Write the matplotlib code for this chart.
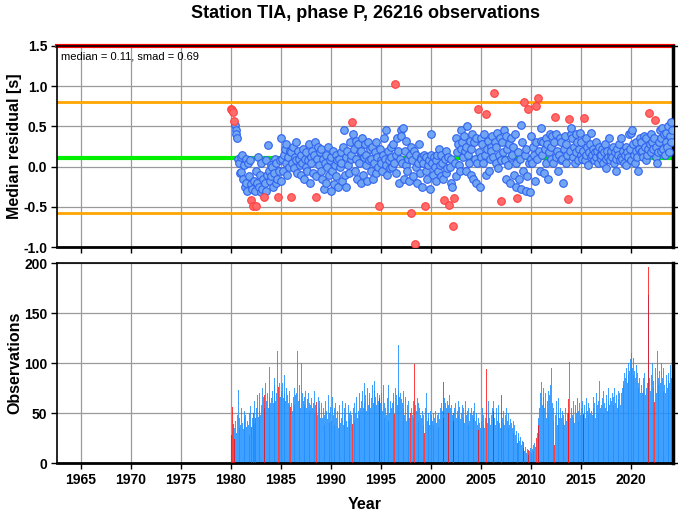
import numpy as np
import matplotlib
matplotlib.use("Agg")
import matplotlib.pyplot as plt

plt.rcParams['font.family'] = ['Liberation Sans', 'DejaVu Sans']

# monthly median residuals [s], Jan 1980 onward
res_1980s = [0.72, 0.70, 0.68, 0.57, 0.52, 0.46, 0.40, 0.36, 0.10, 0.05, -0.08, 0.12,
             -0.07, 0.15, -0.15, 0.02, -0.25, 0.10, -0.20, -0.30, 0.05, -0.12, 0.08, -0.22,
             -0.42, -0.28, -0.49, -0.18, -0.30, -0.49, -0.05, -0.20, 0.12, -0.25, -0.10, -0.32,
             0.05, -0.28, -0.15, -0.38, -0.20, 0.08, -0.30, -0.10, 0.27, -0.05, -0.18, 0.02,
             -0.12, 0.00, -0.25, -0.08, 0.10, -0.20, 0.05, -0.15, -0.38, -0.05, 0.08, -0.18,
             0.36, 0.10, -0.05, 0.15, 0.22, 0.05, 0.28, -0.10, 0.12, 0.00, 0.20, -0.38,
             0.18, 0.05, 0.25, -0.02, 0.12, 0.30, 0.08, -0.08, 0.20, 0.10, 0.02, 0.15,
             -0.10, 0.05, 0.22, -0.15, 0.10, 0.00, 0.18, -0.05, 0.08, 0.28, -0.20, 0.12,
             0.05, 0.20, -0.08, 0.15, 0.30, -0.12, -0.38, 0.10, 0.25, 0.02, 0.18, -0.05,
             0.22, -0.15, 0.10, -0.28, 0.05, 0.15, -0.20, 0.00, 0.25, -0.10, 0.08, -0.30]
res_1990s = [0.12, -0.05, 0.20, -0.22, 0.02, 0.15, -0.12, 0.08, -0.25, 0.10, 0.00, 0.18,
             0.05, -0.18, 0.25, 0.45, -0.10, 0.12, -0.25, 0.20, 0.02, -0.08, 0.30, 0.10,
             0.15, 0.56, 0.40, 0.22, -0.05, 0.32, 0.10, -0.15, 0.28, 0.05, 0.18, -0.20,
             0.20, 0.35, -0.10, 0.12, 0.28, 0.02, 0.15, -0.18, 0.30, 0.08, 0.22, -0.05,
             0.10, 0.25, -0.15, 0.05, 0.18, 0.30, -0.08, 0.12, 0.00, -0.49, 0.22, 0.08,
             0.05, -0.05, 0.15, 0.35, 0.10, 0.45, 0.02, -0.10, 0.20, 0.08, -0.02, 0.25,
             0.12, 0.00, 0.28, 0.05, 1.03, 0.15, -0.08, 0.35, 0.20, -0.20, 0.10, 0.45,
             0.38, 0.05, 0.48, -0.15, 0.20, 0.02, 0.32, -0.05, 0.10, -0.18, 0.15, -0.58,
             0.25, 0.08, -0.12, 0.20, -0.96, 0.00, 0.15, -0.20, 0.05, 0.28, -0.08, 0.12,
             0.10, -0.25, 0.05, 0.15, -0.49, -0.05, 0.12, -0.15, 0.02, 0.08, -0.28, 0.15]
res_2000s = [0.40, 0.05, -0.10, 0.12, 0.00, -0.18, 0.08, 0.15, -0.05, 0.22, 0.02, -0.12,
             0.15, 0.05, -0.15, -0.41, 0.10, -0.08, 0.20, -0.02, 0.12, -0.48, 0.00, -0.20,
             0.10, -0.25, -0.74, -0.39, 0.05, 0.35, -0.12, 0.18, 0.28, 0.02, -0.05, 0.22,
             0.45, 0.30, 0.12, 0.38, 0.20, -0.05, 0.25, 0.50, 0.15, 0.05, 0.32, -0.10,
             0.22, 0.40, -0.15, 0.30, 0.10, -0.20, 0.35, 0.05, 0.72, 0.18, -0.25, 0.12,
             0.35, 0.28, 0.05, 0.40, 0.15, -0.10, 0.66, 0.22, 0.32, -0.05, 0.10, 0.25,
             0.20, 0.38, 0.12, 0.91, 0.30, 0.05, 0.25, 0.42, -0.02, 0.15, 0.35, 0.08,
             -0.43, 0.30, 0.18, 0.45, 0.08, -0.15, 0.38, 0.22, 0.02, 0.28, -0.20, 0.12,
             0.35, 0.15, 0.25, -0.10, 0.40, 0.05, -0.25, -0.39, 0.18, -0.15, 0.10, -0.28,
             0.52, 0.30, -0.05, 0.80, 0.15, -0.30, 0.22, -0.12, 0.72, 0.05, -0.32, 0.10]
res_2010s = [0.38, 0.05, 0.25, 0.15, -0.18, 0.30, 0.75, 0.10, 0.85, 0.20, -0.05, 0.32,
             0.48, 0.15, 0.30, -0.08, 0.22, 0.35, 0.05, 0.28, -0.15, 0.18, 0.40, 0.10,
             0.25, 0.38, 0.05, 0.30, 0.62, 0.12, 0.40, 0.20, -0.05, 0.15, 0.35, 0.08,
             0.30, 0.10, -0.20, 0.22, 0.38, 0.05, 0.28, 0.15, -0.40, 0.59, 0.20, 0.40,
             0.48, 0.35, 0.12, 0.25, 0.05, 0.40, 0.18, 0.30, 0.08, 0.22, 0.42, 0.15,
             0.30, 0.10, 0.20, 0.61, 0.08, 0.35, 0.15, 0.25, 0.02, 0.18, 0.28, 0.12,
             0.42, 0.15, 0.22, 0.08, 0.18, 0.30, 0.12, 0.20, 0.05, 0.25, 0.15, 0.10,
             0.15, 0.22, 0.05, 0.18, 0.28, 0.10, -0.02, 0.20, 0.12, 0.35, 0.08, 0.15,
             0.20, 0.12, 0.25, 0.05, 0.18, 0.10, -0.05, 0.22, 0.15, 0.28, 0.08, 0.12,
             0.35, 0.10, 0.20, 0.05, 0.15, 0.25, 0.02, 0.18, 0.12, 0.40, 0.22, 0.08]
res_2020s = [0.42, 0.45, 0.28, 0.15, 0.05, 0.20, 0.30, 0.12, -0.05, 0.22, 0.35, 0.18,
             0.30, 0.20, 0.12, 0.38, 0.25, 0.08, 0.35, 0.15, 0.22, 0.67, 0.28, 0.18,
             0.40, 0.30, 0.22, 0.35, 0.58, 0.12, 0.25, 0.05, 0.18, 0.30, 0.45, 0.20,
             0.35, 0.48, 0.22, 0.40, 0.15, 0.30, 0.42, 0.25, 0.50, 0.18, 0.38, 0.30,
             0.55, 0.45]

# observations per month
obs_1980s = [28, 56, 39, 24, 35, 42, 30, 48, 73, 35, 45, 38,
             55, 40, 34, 52, 45, 48, 36, 42, 38, 50, 28, 57,
             36, 45, 50, 62, 40, 45, 55, 68, 46, 52, 70, 48,
             58, 75, 66, 68, 55, 80, 62, 70, 55, 96, 66, 60,
             65, 72, 60, 85, 78, 62, 70, 112, 76, 66, 80, 66,
             72, 80, 65, 70, 88, 62, 75, 68, 60, 72, 58, 56,
             60, 52, 66, 75, 58, 68, 70, 112, 62, 78, 64, 55,
             100, 70, 62, 58, 66, 72, 55, 64, 70, 60, 52, 58,
             65, 55, 60, 72, 50, 58, 61, 48, 66, 55, 62, 45,
             60, 45, 55, 48, 38, 62, 52, 44, 68, 40, 50, 56]
obs_1990s = [42, 66, 48, 55, 38, 60, 45, 52, 35, 58, 48, 40,
             45, 62, 38, 55, 48, 60, 42, 36, 58, 50, 44, 52,
             48, 39, 55, 60, 42, 50, 66, 45, 52, 70, 48, 55,
             62, 72, 55, 80, 60, 68, 52, 75, 58, 64, 70, 55,
             65, 78, 60, 72, 82, 66, 58, 70, 62, 65, 68, 60,
             70, 52, 78, 60, 45, 55, 48, 65, 78, 42, 50, 62,
             55, 60, 70, 62, 49, 75, 68, 58, 118, 72, 66, 70,
             64, 60, 72, 55, 48, 66, 42, 58, 62, 50, 45, 50,
             55, 48, 62, 45, 99, 58, 52, 65, 60, 42, 55, 48,
             45, 52, 38, 48, 30, 55, 70, 42, 50, 45, 38, 52]
obs_2000s = [48, 42, 50, 38, 45, 52, 40, 48, 36, 50, 44, 55,
             60, 52, 45, 81, 65, 60, 55, 62, 58, 50, 68, 55,
             58, 48, 42, 50, 55, 60, 45, 52, 48, 62, 56, 44,
             50, 58, 45, 55, 40, 62, 48, 52, 38, 55, 42, 50,
             55, 48, 52, 45, 60, 42, 50, 38, 33, 45, 40, 35,
             42, 55, 38, 48, 35, 45, 94, 40, 50, 62, 45, 38,
             48, 55, 62, 52, 45, 38, 55, 42, 50, 58, 40, 35,
             68, 45, 40, 52, 38, 48, 55, 42, 35, 50, 38, 44,
             40, 35, 42, 30, 38, 28, 32, 20, 25, 30, 22, 26,
             18, 22, 15, 21, 12, 16, 10, 14, 13, 8, 12, 15]
obs_2010s = [10, 14, 18, 12, 20, 16, 25, 30, 38, 45, 55, 70,
             81, 58, 75, 66, 55, 70, 45, 62, 72, 50, 68, 78,
             95, 60, 42, 55, 18, 48, 62, 38, 50, 65, 45, 55,
             45, 52, 40, 48, 38, 55, 42, 50, 64, 50, 101, 45,
             55, 48, 62, 45, 40, 58, 50, 65, 42, 52, 60, 48,
             55, 62, 48, 49, 58, 45, 65, 52, 48, 60, 55, 50,
             52, 48, 66, 55, 60, 45, 70, 58, 50, 62, 82, 55,
             58, 65, 50, 72, 60, 55, 68, 52, 62, 75, 58, 65,
             62, 70, 58, 66, 75, 60, 68, 55, 72, 64, 70, 58,
             70, 75, 82, 78, 90, 85, 95, 80, 88, 100, 92, 104]
obs_2020s = [110, 95, 88, 105, 92, 85, 98, 90, 80, 75, 85, 70,
             78, 70, 85, 72, 90, 68, 75, 80, 168, 196, 85, 72,
             88, 100, 75, 82, 61, 95, 70, 112, 85, 78, 92, 80,
             100, 85, 72, 95, 78, 70, 88, 75, 82, 90, 80, 98,
             85, 90]

# months flagged in red
flagged = ["1980-01", "1980-02", "1980-03", "1980-04", "1982-01", "1982-03",
           "1982-06", "1983-04", "1984-09", "1985-12", "1988-07", "1992-02",
           "1994-10", "1996-05", "1997-12", "1998-05", "1999-05", "2001-04",
           "2001-10", "2002-03", "2002-04", "2004-09", "2005-07", "2006-04",
           "2007-01", "2008-08", "2009-04", "2009-09", "2010-07", "2010-09",
           "2012-05", "2013-09", "2013-10", "2015-04", "2021-10", "2022-05"]

median, smad = 0.11, 0.69

res = np.array(res_1980s + res_1990s + res_2000s + res_2010s + res_2020s)
obs = np.array(obs_1980s + obs_1990s + obs_2000s + obs_2010s + obs_2020s)
t = 1980 + np.arange(len(res)) / 12.0
labels = ["%d-%02d" % (1980 + i // 12, i % 12 + 1) for i in range(len(res))]
red = np.array([lab in flagged for lab in labels])

fig = plt.figure(figsize=(6.78, 5.11), dpi=100)
ax1 = fig.add_axes([0.0841, 0.5166, 0.9085, 0.3934])
ax2 = fig.add_axes([0.0841, 0.0939, 0.9085, 0.3914])

xlim = (1962.6, 2024.2)
for ax in (ax1, ax2):
    ax.set_xlim(*xlim)
    ax.set_xticks(np.arange(1965, 2021, 5))
    ax.grid(True, color='#9a9a9a', lw=0.9)
    ax.set_axisbelow(True)
    ax.tick_params(direction='out', length=4, width=1, labelsize=10, right=True, pad=3)
    for s in ax.spines.values():
        s.set_linewidth(1.2)
    ax.spines['right'].set_linewidth(2.5)
    ax.spines['bottom'].set_linewidth(2)

# top panel: residuals
ax1.set_ylim(-1.0, 1.5)
ax1.set_yticks(np.arange(-1.0, 1.51, 0.5))
ax1.set_yticklabels(["%.1f" % v for v in np.arange(-1.0, 1.51, 0.5)], fontweight='bold')
ax1.set_xticklabels([])
ax1.axhline(1.5, color='red', lw=3, zorder=2, clip_on=False)
ax1.axhline(median + smad, color='orange', lw=2, zorder=2)
ax1.axhline(median - smad, color='orange', lw=2, zorder=2)
ax1.axhline(median, color='#00ee00', lw=3, zorder=2)
ax1.scatter(t[~red] + 1 / 24, res[~red], s=30, c='#72a6f2', edgecolors='#2f62f0',
            linewidths=0.8, zorder=3)
ax1.scatter(t[red] + 1 / 24, res[red], s=30, c='#ff6b6b', edgecolors='#ff4040',
            linewidths=0.8, zorder=3)
ax1.text(0.006, 0.975, "median = %.2f, smad = %.2f" % (median, smad),
         transform=ax1.transAxes, ha='left', va='top', fontsize=8)
ax1.set_ylabel("Median residual [s]", fontsize=11.5, fontweight='bold')
ax1.yaxis.set_label_coords(-0.057, 0.5)
ax1.set_title("Station TIA, phase P, 26216 observations", fontsize=13,
              fontweight='bold', pad=20)

# bottom panel: observation counts
ax2.bar(t[~red], obs[~red], width=0.1, align='edge', color='#1e90ff',
        alpha=0.85, lw=0, zorder=2)
ax2.bar(t[red], obs[red], width=0.1, align='edge', color='red',
        alpha=0.75, lw=0, zorder=3)
ax2.set_ylim(0, 200)
ax2.set_yticks(np.arange(0, 201, 50))
ax2.set_yticklabels([str(v) for v in range(0, 201, 50)], fontweight='bold')
ax2.set_xticklabels([str(v) for v in range(1965, 2021, 5)], fontweight='bold')
ax2.set_ylabel("Observations", fontsize=11.5, fontweight='bold')
ax2.yaxis.set_label_coords(-0.057, 0.5)
ax2.set_xlabel("Year", fontsize=11.5, fontweight='bold')
ax2.xaxis.set_label_coords(0.5, -0.17)

fig.savefig("out.png", dpi=100)
